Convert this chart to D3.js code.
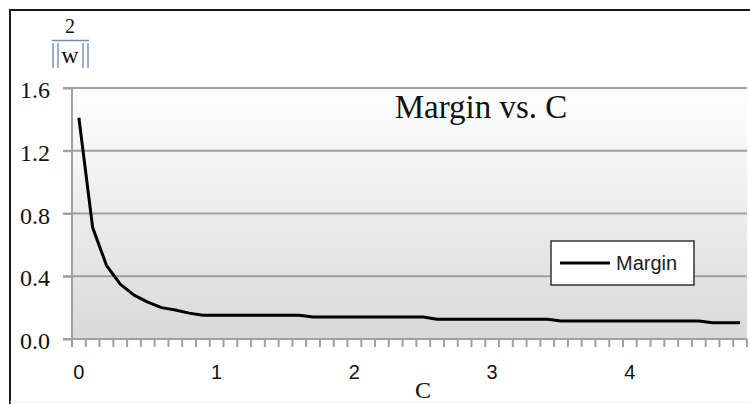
<!DOCTYPE html>
<html>
<head>
<meta charset="utf-8">
<script src="https://cdn.jsdelivr.net/npm/d3@7"></script>
<style>
  html, body { margin: 0; padding: 0; background: #fff; }
  svg { display: block; }
</style>
</head>
<body>
<div id="chart"></div>
<script>
// Margin vs. C - line chart on a category axis

const cValues = ['0', '0.1', '0.2', '0.3', '0.4', '0.5', '0.6', '0.7', '0.8', '0.9',
    '1.0', '1.1', '1.2', '1.3', '1.4', '1.5', '1.6', '1.7', '1.8', '1.9',
    '2.0', '2.1', '2.2', '2.3', '2.4', '2.5', '2.6', '2.7', '2.8', '2.9',
    '3.0', '3.1', '3.2', '3.3', '3.4', '3.5', '3.6', '3.7', '3.8', '3.9',
    '4.0', '4.1', '4.2', '4.3', '4.4', '4.5', '4.6', '4.7', '4.8'];

const marginValues = [1.41, 0.71, 0.47, 0.35, 0.28, 0.235, 0.2, 0.185, 0.165, 0.152,
    0.152, 0.152, 0.152, 0.152, 0.152, 0.152, 0.152, 0.14, 0.14, 0.14,
    0.14, 0.14, 0.14, 0.14, 0.14, 0.14, 0.126, 0.126, 0.126, 0.126,
    0.126, 0.126, 0.126, 0.126, 0.126, 0.115, 0.115, 0.115, 0.115, 0.115,
    0.115, 0.115, 0.115, 0.115, 0.115, 0.115, 0.104, 0.104, 0.104];

const yTicks = [0, 0.4, 0.8, 1.2, 1.6];
const xLabelCats = ['0', '1.0', '2.0', '3.0', '4.0'];
const xLabels = ['0', '1', '2', '3', '4'];
const seriesName = 'Margin';
const chartTitle = 'Margin vs. C';

const totalWidth = 750;
const totalHeight = 404;
const margin = { top: 88, right: 3, bottom: 65, left: 72 };
const width = totalWidth - margin.left - margin.right;
const height = totalHeight - margin.top - margin.bottom;

const root = d3.select('#chart')
    .append('svg')
    .attr('width', totalWidth)
    .attr('height', totalHeight);

// Chart frame (cropped on the right)
root.append('path')
    .attr('d', `M10,${totalHeight} L10,10 L${totalWidth},10`)
    .attr('fill', 'none')
    .attr('stroke', '#1a1a1a')
    .attr('stroke-width', 2);

root.append('line')
    .attr('x1', 10).attr('x2', totalWidth)
    .attr('y1', 402).attr('y2', 402)
    .attr('stroke', '#ececec');

const defs = root.append('defs');
const grad = defs.append('linearGradient')
    .attr('id', 'plotBg')
    .attr('x1', 0).attr('y1', 0).attr('x2', 0).attr('y2', 1);
grad.append('stop').attr('offset', '0%').attr('stop-color', '#ffffff');
grad.append('stop').attr('offset', '100%').attr('stop-color', '#d9d9d9');

const svg = root.append('g')
    .attr('transform', `translate(${margin.left},${margin.top})`);

// Scales
const x = d3.scaleBand()
    .domain(cValues)
    .range([0, width])
    .padding(0);

const y = d3.scaleLinear()
    .domain([0, 1.6])
    .range([height, 0]);

// Plot background
svg.append('rect')
    .attr('width', width)
    .attr('height', height)
    .attr('fill', 'url(#plotBg)');

// Grid lines
svg.append('g')
    .selectAll('line')
    .data(yTicks.filter(d => d > 0))
    .enter()
    .append('line')
    .attr('x1', -9)
    .attr('x2', width)
    .attr('y1', d => y(d))
    .attr('y2', d => y(d))
    .attr('stroke', '#a0a0a0')
    .attr('stroke-width', 2);

// Y axis
const yAxis = svg.append('g')
    .call(d3.axisLeft(y)
        .tickValues(yTicks)
        .tickSize(9)
        .tickPadding(13)
        .tickFormat(d3.format('.1f')));
yAxis.select('.domain')
    .attr('stroke', '#a0a0a0')
    .attr('stroke-width', 2)
    .attr('d', `M0,0V${height}`);
yAxis.selectAll('.tick line')
    .attr('stroke', '#a0a0a0')
    .attr('stroke-width', 2);
yAxis.selectAll('.tick text')
    .attr('dy', '0.4em')
    .style('font-family', '"Liberation Serif", serif')
    .style('font-size', '24px')
    .style('fill', '#111');

// X axis: ticks on category boundaries
const xAxis = svg.append('g')
    .attr('transform', `translate(0,${height})`);
xAxis.append('line')
    .attr('x1', -9).attr('x2', width)
    .attr('stroke', '#a0a0a0')
    .attr('stroke-width', 2);
xAxis.selectAll('.xtick')
    .data(cValues.concat(['end']))
    .enter()
    .append('line')
    .attr('class', 'xtick')
    .attr('x1', d => d === 'end' ? width : x(d))
    .attr('x2', d => d === 'end' ? width : x(d))
    .attr('y1', 0)
    .attr('y2', 8)
    .attr('stroke', '#a0a0a0')
    .attr('stroke-width', 2);
xAxis.selectAll('.xlabel')
    .data(xLabelCats)
    .enter()
    .append('text')
    .attr('class', 'xlabel')
    .attr('x', d => x(d) + x.bandwidth() / 2)
    .attr('y', 40)
    .attr('text-anchor', 'middle')
    .style('font-family', '"Liberation Sans", sans-serif')
    .style('font-size', '20px')
    .style('fill', '#111')
    .text((d, i) => xLabels[i]);

// Axis title
svg.append('text')
    .attr('x', 351)
    .attr('y', height + 59)
    .attr('text-anchor', 'middle')
    .style('font-family', '"Liberation Serif", serif')
    .style('font-size', '24px')
    .style('fill', '#111')
    .text('C');

// Y label as a fraction 2 / ||w||
const frac = root.append('g').attr('transform', 'translate(70,0)');
frac.append('text')
    .attr('x', 0)
    .attr('y', 33)
    .attr('text-anchor', 'middle')
    .style('font-family', '"Liberation Serif", serif')
    .style('font-size', '20px')
    .style('fill', '#111')
    .text('2');
frac.append('line')
    .attr('x1', -18).attr('x2', 19)
    .attr('y1', 40.5).attr('y2', 40.5)
    .attr('stroke', '#6f8fbf')
    .attr('stroke-width', 1.5);
frac.append('text')
    .attr('x', 0)
    .attr('y', 63)
    .attr('text-anchor', 'middle')
    .style('font-family', '"Liberation Serif", serif')
    .style('font-size', '24px')
    .style('fill', '#111')
    .text('w');
[-17, -12, 13, 18].forEach(bx => {
    frac.append('line')
        .attr('x1', bx).attr('x2', bx)
        .attr('y1', 43).attr('y2', 68)
        .attr('stroke', '#6f7fb0')
        .attr('stroke-width', 1.3);
});

// Line
const line = d3.line()
    .x((d, i) => x(cValues[i]) + x.bandwidth() / 2)
    .y(d => y(d));

svg.append('path')
    .datum(marginValues)
    .attr('fill', 'none')
    .attr('stroke', '#000')
    .attr('stroke-width', 3)
    .attr('stroke-linejoin', 'round')
    .attr('d', line);

// Title
svg.append('text')
    .attr('x', 409)
    .attr('y', 30)
    .attr('text-anchor', 'middle')
    .style('font-family', '"Liberation Serif", serif')
    .style('font-size', '33px')
    .style('fill', '#111')
    .text(chartTitle);

// Legend
const legend = root.append('g')
    .attr('transform', 'translate(551,241)');
legend.append('rect')
    .attr('width', 143)
    .attr('height', 44)
    .attr('fill', '#fff')
    .attr('stroke', '#333')
    .attr('stroke-width', 1.5);
legend.append('line')
    .attr('x1', 9).attr('x2', 59)
    .attr('y1', 22).attr('y2', 22)
    .attr('stroke', '#000')
    .attr('stroke-width', 3);
legend.append('text')
    .attr('x', 65)
    .attr('y', 22)
    .attr('dy', '0.35em')
    .style('font-family', '"Liberation Sans", sans-serif')
    .style('font-size', '20px')
    .style('fill', '#222')
    .text(seriesName);
</script>
</body>
</html>
